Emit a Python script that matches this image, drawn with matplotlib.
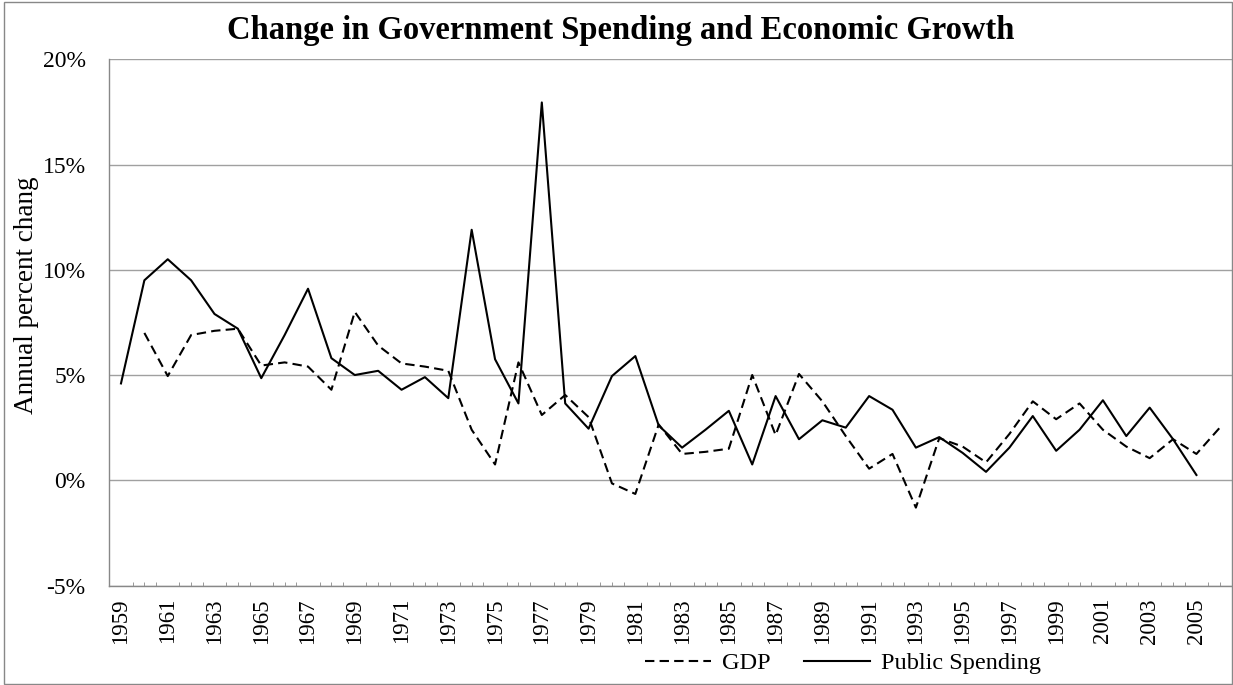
import matplotlib
matplotlib.use("Agg")
import matplotlib.pyplot as plt
from matplotlib.patches import Rectangle
from matplotlib.ticker import FuncFormatter, MultipleLocator
import numpy as np

plt.rcParams['font.family'] = ['Liberation Serif', 'DejaVu Serif']

# annual % change
spend_years = list(range(1959, 2006))
spending = [4.6, 9.5, 10.5, 9.5, 7.9, 7.2, 4.85, 6.9, 9.1, 5.8,
            5.0, 5.2, 4.3, 4.9, 3.9, 11.9, 5.75, 3.65, 17.95, 3.65,
            2.45, 4.95, 5.9, 2.6, 1.55, 2.4, 3.3, 0.75, 4.0, 1.95,
            2.85, 2.5, 4.0, 3.35, 1.55, 2.05, 1.3, 0.4, 1.55, 3.05,
            1.4, 2.4, 3.8, 2.1, 3.45, 1.95, 0.25]
gdp_years = list(range(1960, 2007))
gdp = [7.0, 4.95, 6.9, 7.1, 7.2, 5.45, 5.6, 5.4, 4.3, 8.0,
       6.4, 5.55, 5.4, 5.2, 2.4, 0.75, 5.6, 3.1, 4.05, 3.0,
       -0.15, -0.65, 2.65, 1.25, 1.35, 1.5, 5.0, 2.15, 5.05, 3.75,
       2.1, 0.55, 1.25, -1.3, 2.0, 1.6, 0.85, 2.2, 3.75, 2.9,
       3.65, 2.4, 1.6, 1.05, 1.95, 1.25, 2.5]
label_years = list(range(1959, 2006, 2))

W, H = 1233, 685
fig = plt.figure(figsize=(W / 100, H / 100), dpi=100)
ax = fig.add_axes([109.3 / W, 1 - 585.5 / H, 1122.2 / W, 526.2 / H])

ax.plot(gdp_years, gdp, color='black', lw=1.5, ls=(0, (4.5, 2.5)), label='GDP')
ax.plot(spend_years, spending, color='black', lw=1.5, label='Public Spending')

ax.set_xlim(1958.5, 2006.5)
ax.set_ylim(-5, 20)
ax.set_yticks([-5, 0, 5, 10, 15, 20])
ax.yaxis.set_major_formatter(FuncFormatter(lambda v, _: f"{v:.0f}%"))
ax.set_xticks(label_years)
ax.set_xticklabels([str(y) for y in label_years], rotation=90)
ax.xaxis.set_minor_locator(MultipleLocator(0.5))
ax.tick_params(axis='x', which='major', length=0, pad=9, labelsize=16.5)
ax.tick_params(axis='x', which='minor', length=3, direction='in', color='#888888')
ax.tick_params(axis='y', length=0, pad=17, labelsize=17)
ax.grid(axis='y', color='#a0a0a0', lw=1)
for s in ('top', 'right'):
    ax.spines[s].set_visible(False)
for s in ('left', 'bottom'):
    ax.spines[s].set_color('#888888')
    ax.spines[s].set_linewidth(1)

fig.text(27 / W, 1 - 295 / H, 'Annual percent chang', rotation=90,
         ha='center', va='center', fontsize=19.5)
fig.text(621 / W, 1 - 31 / H, 'Change in Government Spending and Economic Growth',
         ha='center', va='center', fontsize=23.5, fontweight='bold')
fig.legend(loc='center', bbox_to_anchor=(843 / W, 1 - 663 / H), ncol=2,
           frameon=False, fontsize=17.5, handlelength=2.7, handletextpad=0.45,
           columnspacing=1.4)
fig.patches.append(Rectangle((4 / W, 1.5 / H), 1227.5 / W, 682 / H,
                             transform=fig.transFigure, fill=False,
                             edgecolor='#888888', lw=1))

fig.savefig('out.png', dpi=100)
